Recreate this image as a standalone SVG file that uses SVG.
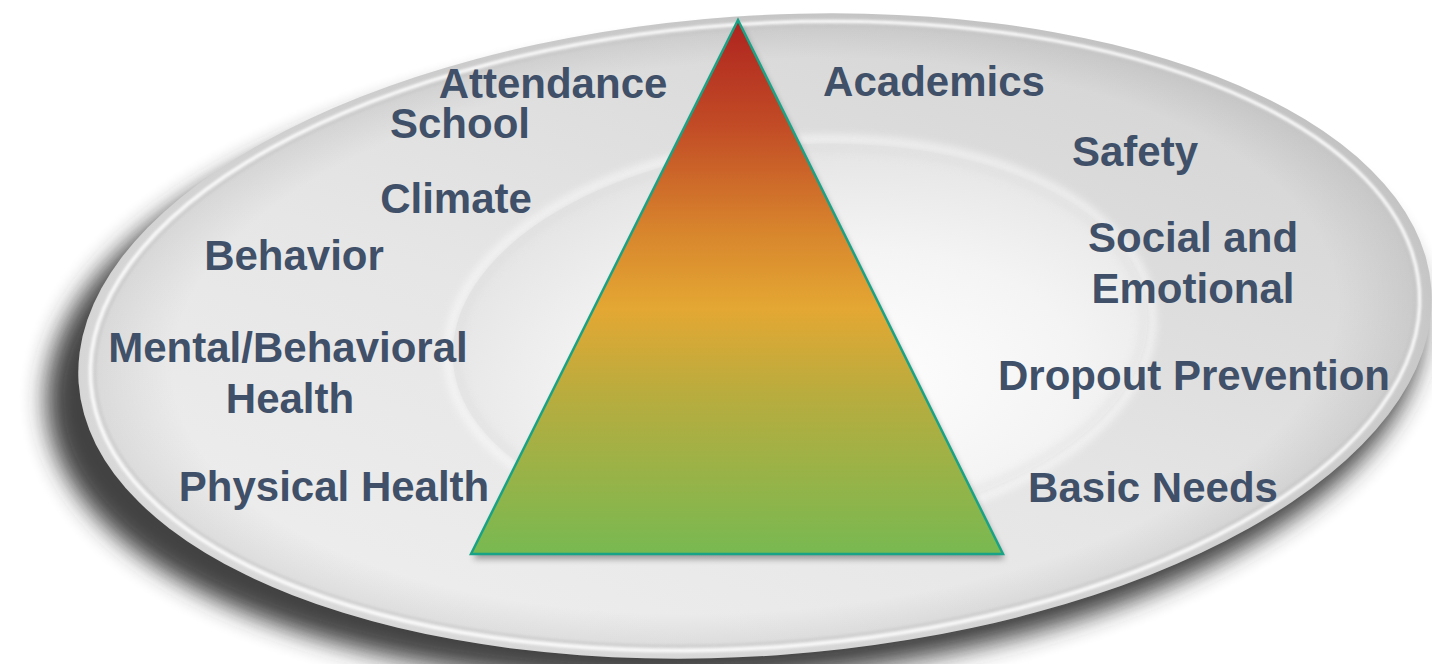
<svg xmlns="http://www.w3.org/2000/svg" width="1432" height="664" viewBox="0 0 1432 664">
  <style>
    .lbl { font-family: "Liberation Sans", Arial, sans-serif; font-weight: bold; font-size: 42px; fill: #3f5068; text-anchor: middle; }
  </style>
  <defs>
    <filter id="plateShadow" x="-10%" y="-15%" width="120%" height="135%">
      <feGaussianBlur stdDeviation="12"/>
    </filter>
    <filter id="soft1" x="-5%" y="-5%" width="110%" height="110%">
      <feGaussianBlur stdDeviation="1.2"/>
    </filter>
    <filter id="soft4" x="-10%" y="-10%" width="120%" height="120%">
      <feGaussianBlur stdDeviation="4"/>
    </filter>
    <filter id="triShadow" x="-10%" y="-10%" width="120%" height="125%">
      <feGaussianBlur stdDeviation="3"/>
    </filter>
    <linearGradient id="rimFill" x1="0" y1="1" x2="1" y2="0">
      <stop offset="0" stop-color="#f1f1f1"/>
      <stop offset="0.45" stop-color="#e6e6e6"/>
      <stop offset="1" stop-color="#cfcfcf"/>
    </linearGradient>
    <radialGradient id="rimEdge" cx="0.5" cy="0.5" r="0.5">
      <stop offset="0.86" stop-color="#000" stop-opacity="0"/>
      <stop offset="1" stop-color="#000" stop-opacity="0.09"/>
    </radialGradient>
    <radialGradient id="wellFill" cx="0.55" cy="0.62" r="0.62">
      <stop offset="0" stop-color="#ffffff"/>
      <stop offset="0.55" stop-color="#f4f4f4"/>
      <stop offset="1" stop-color="#e4e4e4"/>
    </radialGradient>
    <linearGradient id="pyramidFill" x1="0" y1="0" x2="0" y2="1">
      <stop offset="0" stop-color="#ae231f"/>
      <stop offset="0.2" stop-color="#c24c26"/>
      <stop offset="0.4" stop-color="#d8862d"/>
      <stop offset="0.54" stop-color="#e4a733"/>
      <stop offset="0.7" stop-color="#b9ac3e"/>
      <stop offset="1" stop-color="#78b951"/>
    </linearGradient>
  </defs>

  <!-- plate -->
  <g id="plate" transform="rotate(-4 755 336)">
    <ellipse cx="733" cy="360" rx="690" ry="318" fill="#2e2e2e" opacity="0.9" filter="url(#plateShadow)"/>
    <ellipse cx="755" cy="336" rx="678" ry="320" fill="url(#rimFill)"/>
    <ellipse cx="755" cy="336" rx="678" ry="320" fill="url(#rimEdge)"/>
    <ellipse cx="755" cy="336" rx="661" ry="307" fill="none" stroke="#c6c6c6" stroke-width="2" opacity="0.7" filter="url(#soft1)"/>
    <ellipse cx="755" cy="336" rx="666" ry="312" fill="none" stroke="#ffffff" stroke-width="3.5" opacity="0.85" filter="url(#soft1)"/>
    <!-- well -->
    <ellipse cx="800" cy="340" rx="352" ry="196" fill="none" stroke="#ffffff" stroke-width="8" opacity="0.7" filter="url(#soft4)"/>
    <ellipse cx="800" cy="340" rx="348" ry="192" fill="url(#wellFill)"/>
    <ellipse cx="800" cy="340" rx="344" ry="188" fill="none" stroke="#d8d8d8" stroke-width="6" opacity="0.5" filter="url(#soft4)"/>
  </g>

  <!-- pyramid -->
  <g id="pyramid">
    <polygon points="740,25 1005,559 473,559" fill="#000" opacity="0.35" filter="url(#triShadow)"/>
    <polygon points="738,20 1003,554 471,554" fill="url(#pyramidFill)" stroke="#19a386" stroke-width="2.5"/>
  </g>

  <g id="connectors"/>

  <!-- left labels -->
  <g id="attendance"><text class="lbl" x="553" y="98">Attendance</text></g>
  <g id="school-climate">
    <text class="lbl" x="460" y="138">School</text>
    <text class="lbl" x="456" y="213">Climate</text>
  </g>
  <g id="behavior"><text class="lbl" x="294" y="270">Behavior</text></g>
  <g id="mental-health">
    <text class="lbl" x="288" y="362">Mental/Behavioral</text>
    <text class="lbl" x="290" y="413">Health</text>
  </g>
  <g id="physical-health"><text class="lbl" x="334" y="501">Physical Health</text></g>

  <!-- right labels -->
  <g id="academics"><text class="lbl" x="934" y="96">Academics</text></g>
  <g id="safety"><text class="lbl" x="1135" y="166">Safety</text></g>
  <g id="social-emotional">
    <text class="lbl" x="1193" y="252">Social and</text>
    <text class="lbl" x="1193" y="303">Emotional</text>
  </g>
  <g id="dropout-prevention"><text class="lbl" x="1194" y="390">Dropout Prevention</text></g>
  <g id="basic-needs"><text class="lbl" x="1153" y="502">Basic Needs</text></g>
</svg>
